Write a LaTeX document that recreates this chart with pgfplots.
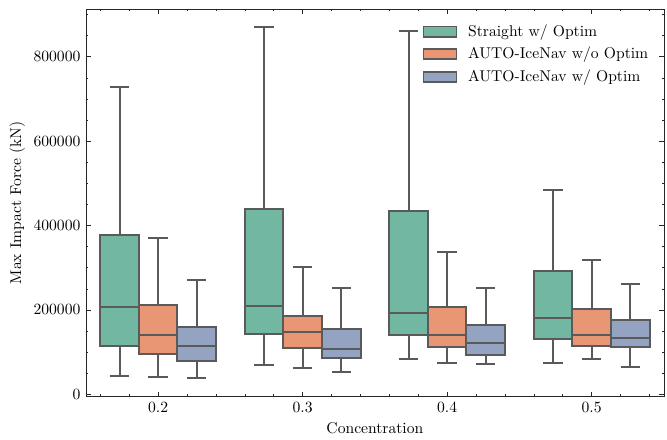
\documentclass[border=0pt]{standalone}
\usepackage{pgfplots}
\pgfplotsset{compat=1.18}
\usepgfplotslibrary{statistics}
\definecolor{cA}{HTML}{72B7A1}
\definecolor{cB}{HTML}{E99675}
\definecolor{cC}{HTML}{95A3C3}
\definecolor{lg}{HTML}{5A5A5A}
\pgfplotsset{
  bx/.style={forget plot, mark=none, solid, draw=lg, line width=1.28pt, fill=#1,
    boxplot/every box/.style={draw=lg, line width=1.28pt, fill=#1},
    boxplot/every whisker/.style={draw=lg, line width=1.28pt},
    boxplot/every median/.style={draw=lg, line width=1.28pt}},
}
\begin{document}
\begin{tikzpicture}
\begin{axis}[
  width=370pt, height=248pt, scale only axis,
  xmin=-0.5, xmax=3.5, ymin=-5000, ymax=913000,
  xtick={0,1,2,3}, xticklabels={0.2,0.3,0.4,0.5},
  minor xtick={-0.4,-0.2,0.2,0.4,0.6,0.8,1.2,1.4,1.6,1.8,2.2,2.4,2.6,2.8,3.2,3.4},
  ytick={0,200000,400000,600000,800000},
  minor ytick={50000,100000,150000,250000,300000,350000,450000,500000,550000,650000,700000,750000,850000,900000},
  scaled y ticks=false,
  yticklabel style={/pgf/number format/fixed, /pgf/number format/1000 sep={}},
  tick align=inside, xtick pos=both, ytick pos=both,
  major tick length=3pt, minor tick length=1.5pt,
  axis line style={black!85}, every tick/.style={black!85},
  xlabel={Concentration}, ylabel={Max Impact Force (kN)},
  every axis y label/.style={at={(axis description cs:-0.119,0.5)}, rotate=90, anchor=center},
  every axis x label/.style={at={(axis description cs:0.5,-0.083)}, anchor=center},
  boxplot/draw direction=y,
  boxplot/box extend=0.267,
  boxplot/whisker extend=0.134,
  legend image code/.code={\draw[#1] (0pt,-3.3pt) rectangle (21pt,3.3pt); \path (26pt,0pt);},
  legend style={draw=none, fill=none, at={(0.987,0.977)}, anchor=north east, row sep=1.5pt, font=\normalsize,
    /tikz/every even column/.append style={column sep=0pt}},
  legend cell align=left,
]
\addlegendimage{draw=lg, line width=1.1pt, fill=cA}
\addlegendentry{Straight w/ Optim}
\addlegendimage{draw=lg, line width=1.1pt, fill=cB}
\addlegendentry{AUTO-IceNav w/o Optim}
\addlegendimage{draw=lg, line width=1.1pt, fill=cC}
\addlegendentry{AUTO-IceNav w/ Optim}
% 0.2
\addplot[bx=cA, boxplot prepared={draw position=-0.267, lower whisker=42500, lower quartile=115700, median=207000, upper quartile=377000, upper whisker=729400}] coordinates {};
\addplot[bx=cB, boxplot prepared={draw position=0, lower whisker=40100, lower quartile=96000, median=141600, upper quartile=211000, upper whisker=371500}] coordinates {};
\addplot[bx=cC, boxplot prepared={draw position=0.267, lower whisker=39400, lower quartile=78800, median=115000, upper quartile=159800, upper whisker=271500}] coordinates {};
% 0.3
\addplot[bx=cA, boxplot prepared={draw position=0.733, lower whisker=68500, lower quartile=144000, median=210100, upper quartile=440000, upper whisker=869600}] coordinates {};
\addplot[bx=cB, boxplot prepared={draw position=1, lower whisker=63000, lower quartile=111000, median=148700, upper quartile=186500, upper whisker=302200}] coordinates {};
\addplot[bx=cC, boxplot prepared={draw position=1.267, lower whisker=52000, lower quartile=85000, median=107200, upper quartile=155100, upper whisker=251900}] coordinates {};
% 0.4
\addplot[bx=cA, boxplot prepared={draw position=1.733, lower whisker=83600, lower quartile=140900, median=193600, upper quartile=434400, upper whisker=861600}] coordinates {};
\addplot[bx=cB, boxplot prepared={draw position=2, lower whisker=73200, lower quartile=111900, median=140200, upper quartile=207700, upper whisker=337600}] coordinates {};
\addplot[bx=cC, boxplot prepared={draw position=2.267, lower whisker=70800, lower quartile=94400, median=122700, upper quartile=165200, upper whisker=252600}] coordinates {};
% 0.5
\addplot[bx=cA, boxplot prepared={draw position=2.733, lower whisker=74100, lower quartile=130800, median=181800, upper quartile=292700, upper whisker=483900}] coordinates {};
\addplot[bx=cB, boxplot prepared={draw position=3, lower whisker=82600, lower quartile=115000, median=141600, upper quartile=203000, upper whisker=318700}] coordinates {};
\addplot[bx=cC, boxplot prepared={draw position=3.267, lower whisker=65400, lower quartile=113300, median=134600, upper quartile=175600, upper whisker=260600}] coordinates {};
\end{axis}
\path (current axis.south west) ++(-55pt,-27.5pt) coordinate (bbA);
\path (current axis.north east) ++(2pt,5.8pt) coordinate (bbB);
\pgfresetboundingbox
\path[use as bounding box] (bbA) rectangle (bbB);
\end{tikzpicture}
\end{document}
